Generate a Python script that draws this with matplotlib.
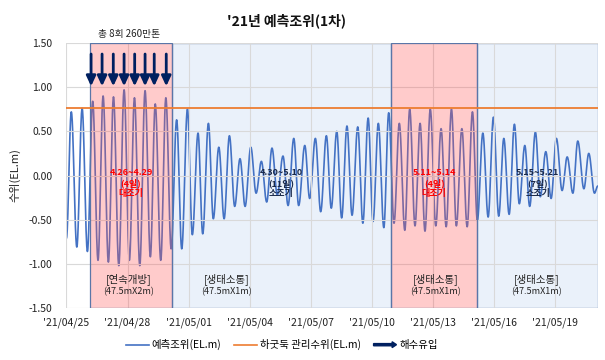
import matplotlib
matplotlib.use("Agg")
import matplotlib.pyplot as plt
import matplotlib.dates as mdates
from matplotlib.patches import Rectangle, FancyArrow
from matplotlib.lines import Line2D
from matplotlib.legend_handler import HandlerPatch
from datetime import datetime
import numpy as np

plt.rcParams['font.family'] = ['Noto Sans CJK KR', 'DejaVu Sans']

# high / low water (days after 2021-04-25 00:00, EL.m)
ext_day = [0.00, 0.24, 0.51, 0.77, 1.03, 1.29, 1.55, 1.80, 2.06, 2.31, 2.57, 2.83,
           3.09, 3.34, 3.60, 3.86, 4.12, 4.36, 4.63, 4.88, 5.14, 5.41, 5.66, 5.94,
           6.18, 6.46, 6.69, 6.97, 7.21, 7.48, 7.74, 8.00, 8.26, 8.52, 8.77, 9.05,
           9.31, 9.57, 9.83, 10.09, 10.35, 10.63, 10.88, 11.16, 11.40, 11.70, 11.94,
           12.22, 12.48, 12.76, 13.00, 13.27, 13.51, 13.77, 14.02, 14.30, 14.55,
           14.81, 15.05, 15.31, 15.58, 15.82, 16.08, 16.34, 16.61, 16.85, 17.11,
           17.36, 17.60, 17.86, 18.13, 18.39, 18.64, 18.90, 19.14, 19.41, 19.67,
           19.93, 20.17, 20.44, 20.70, 20.96, 21.22, 21.47, 21.73, 21.99, 22.23,
           22.50, 22.74, 23.02, 23.26, 23.53, 23.79, 24.05, 24.33, 24.58, 24.86,
           25.10, 25.40, 25.64, 25.92, 26.08]
ext_lvl = [-0.71, 0.72, -0.81, 0.76, -0.86, 0.84, -0.96, 0.90, -0.98, 0.89, -1.02, 0.97,
           -0.96, 0.88, -1.02, 0.96, -0.92, 0.81, -0.96, 0.88, -0.83, 0.63, -0.83, 0.75,
           -0.67, 0.48, -0.66, 0.59, -0.49, 0.32, -0.49, 0.45, -0.35, 0.19, -0.35, 0.32,
           -0.20, 0.16, -0.30, 0.31, -0.22, 0.22, -0.34, 0.42, -0.34, 0.34, -0.26,
           0.42, -0.41, 0.45, -0.37, 0.50, -0.48, 0.56, -0.45, 0.55, -0.54,
           0.65, -0.52, 0.59, -0.59, 0.71, -0.54, 0.59, -0.62, 0.75, -0.57,
           0.59, -0.63, 0.75, -0.57, 0.53, -0.58, 0.75, -0.57, 0.53, -0.58,
           0.72, -0.51, 0.48, -0.47, 0.66, -0.46, 0.42, -0.44, 0.58, -0.32,
           0.34, -0.35, 0.49, -0.24, 0.27, -0.26, 0.42, -0.17, 0.21, -0.20,
           0.39, -0.15, 0.25, -0.20, -0.12]
manage_level = 0.76

# periods (days)
period_start = [1.16, 5.18, 15.93, 20.17]
period_end = [5.18, 15.93, 20.17, 26.08]
period_kind = ['spring', 'neap', 'spring', 'neap']
period_text = ['4.26~4.29\n(4일)\n대조기', '4.30~5.10\n(11일)\n소조기',
               '5.11~5.14\n(4일)\n대조기', '5.15~5.21\n(7일)\n소조기']
gate_title = ['[연속개방]', '[생태소통]', '[생태소통]', '[생태소통]']
gate_size = ['(47.5mX2m)', '(47.5mX1m)', '(47.5mX1m)', '(47.5mX1m)']
gate_day = [3.07, 7.88, 18.14, 23.09]

inflow_day = [1.21, 1.75, 2.30, 2.83, 3.35, 3.86, 4.31, 4.90]

base = mdates.date2num(datetime(2021, 4, 25))

# smooth tide curve between the read extremes
t, v = [], []
for i in range(len(ext_day) - 1):
    s = np.linspace(0, 1, 24, endpoint=False)
    t.append(ext_day[i] + s * (ext_day[i + 1] - ext_day[i]))
    v.append(ext_lvl[i] + (ext_lvl[i + 1] - ext_lvl[i]) * (1 - np.cos(np.pi * s)) / 2)
t = np.concatenate(t + [[ext_day[-1]]]) + base
v = np.concatenate(v + [[ext_lvl[-1]]])

fig = plt.figure(figsize=(6.05, 3.6), dpi=100)
ax = fig.add_axes([0.1098, 0.1444, 0.8782, 0.7362])

edge = '#5A76A8'
for s0, s1, kind in zip(period_start, period_end, period_kind):
    if kind == 'neap':
        ax.add_patch(Rectangle((base + s0, -1.5), s1 - s0, 3.0, facecolor='#EAF1FA',
                               edgecolor=edge, lw=0.9, zorder=0.5))
    else:
        ax.add_patch(Rectangle((base + s0, -1.5), s1 - s0, 3.0,
                               facecolor=(1, 0.333, 0.333, 0.3),
                               edgecolor=edge, lw=0.9, zorder=3))

ax.plot(t, v, color='#4472C4', lw=1.2, zorder=2)
ax.axhline(manage_level, color='#ED7D31', lw=1.3, zorder=4)

for d in inflow_day:
    ax.annotate('', xy=(base + d, 1.01), xytext=(base + d, 1.375),
                arrowprops=dict(arrowstyle='-|>,head_length=0.6,head_width=0.28',
                                color='#002060', lw=2.0, mutation_scale=10,
                                shrinkA=0, shrinkB=0), zorder=5)

for s0, s1, kind, txt in zip(period_start, period_end, period_kind, period_text):
    col = '#FF0000' if kind == 'spring' else '#1B2A4A'
    ax.text(base + (s0 + s1) / 2, -0.085, txt, ha='center', va='center', fontsize=6.5,
            color=col, fontweight='bold', linespacing=1.15, zorder=6)

for d, a, b in zip(gate_day, gate_title, gate_size):
    ax.text(base + d, -1.17, a, ha='center', va='center', fontsize=7.5, color='#222222', zorder=6)
    ax.text(base + d, -1.32, b, ha='center', va='center', fontsize=6.5, color='#222222', zorder=6)

ax.set_xlim(base, base + 26.08)
ax.set_ylim(-1.5, 1.5)
ax.set_yticks(np.arange(-1.5, 1.51, 0.5))
ax.set_yticklabels(['%.2f' % y for y in np.arange(-1.5, 1.51, 0.5)])
ax.set_xticks(base + np.arange(0, 25, 3))
ax.xaxis.set_major_formatter(mdates.DateFormatter("'%y/%m/%d"))
ax.tick_params(length=0, labelsize=7.5, colors='#222222')
ax.tick_params(axis='y', pad=10)
ax.tick_params(axis='x', pad=7)
ax.grid(True, color='#D9D9D9', lw=0.8, zorder=1)
ax.set_axisbelow(False)
for sp in ax.spines.values():
    sp.set_visible(False)
ax.set_ylabel('수위(EL.m)', fontsize=8, color='#222222', labelpad=6)

fig.text(0.474, 0.942, "'21년 예측조위(1차)", ha='center', va='center', fontsize=10,
         fontweight='bold', color='#111111')
fig.text(0.213, 0.905, '총 8회 260만톤', ha='center', va='center', fontsize=7, color='#222222')


class ArrowHandler(HandlerPatch):
    def create_artists(self, legend, orig_handle, xdescent, ydescent, width, height,
                       fontsize, trans):
        arr = FancyArrow(-xdescent, height / 2 - ydescent, width, 0, width=height * 0.3,
                         head_width=height * 0.8, head_length=height * 0.6,
                         length_includes_head=True, color='#002060', transform=trans)
        return [arr]


handles = [Line2D([], [], color='#4472C4', lw=1.2),
           Line2D([], [], color='#ED7D31', lw=1.2),
           FancyArrow(0, 0, 1, 0, color='#002060')]
labels = ['예측조위(EL.m)', '하굿둑 관리수위(EL.m)', '해수유입']
fig.legend(handles, labels, loc='center', bbox_to_anchor=(0.466, 0.042), ncol=3,
           frameon=False, fontsize=7.5, handlelength=2.2, columnspacing=1.2,
           handletextpad=0.3, handler_map={FancyArrow: ArrowHandler()})

fig.savefig('out.png', dpi=100)
